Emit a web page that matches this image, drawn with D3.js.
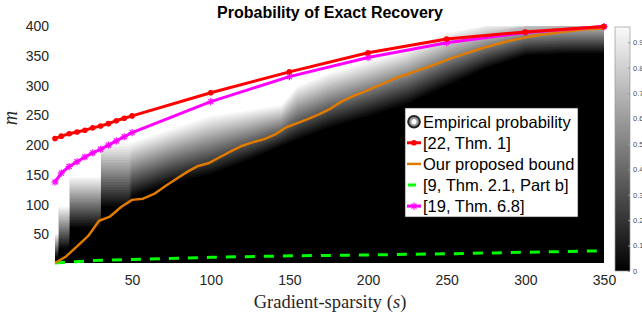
<!DOCTYPE html>
<html>
<head>
<meta charset="utf-8">
<script src="https://cdn.jsdelivr.net/npm/d3@7"></script>
<style>
body { margin: 0; background: #fff; }
svg { display: block; }
</style>
</head>
<body>
<svg></svg>
<script>
var width = 642;
var height = 318;

// s values used by the two marked bounds
var boundS = [1, 5, 10, 15, 20, 25, 30, 35, 40, 45, 50, 100, 150, 200, 250, 300, 350];
var redM = [211, 215, 219, 222, 225, 229, 232, 236, 241, 245, 249, 288, 323, 355, 378, 390, 399];
var magentaM = [138, 153, 164, 172, 180, 187, 193, 200, 207, 214, 221, 273, 315, 347, 372, 389, 399];

// our proposed bound
var orangeS = [1, 8, 15, 22, 29, 36, 43, 50, 57, 64, 71, 78, 85, 92, 99, 106, 113, 120, 127, 134,
    141, 148, 155, 162, 169, 176, 183, 190, 197, 204, 211, 218, 225, 232, 239, 246, 253, 260, 267, 274,
    281, 288, 295, 302, 309, 316, 323, 330, 337, 344, 350];
var orangeM = [2, 13, 30, 47, 73, 80, 96, 108, 110, 118, 131, 143, 155, 165, 170, 180, 190, 199, 205, 210,
    218, 230, 237, 244, 252, 261, 273, 282, 289, 297, 305, 313, 319, 326, 332, 339, 346, 352, 358, 364,
    369, 374, 378, 382, 385, 387, 390, 392, 394, 395, 396];

// [9, Thm 2.1, Part b]
var greenS = [1, 25, 50, 100, 150, 200, 250, 300, 350];
var greenM = [2, 6, 8, 11.5, 14, 15.5, 17.5, 20, 22.5];

// empirical probability: m where it leaves 0 (lo) and where it reaches the top (hi)
var heatS  = [1, 3, 3, 10, 10, 30, 30, 48, 50, 75, 100, 125, 145, 155, 175, 200, 225, 250, 275, 300, 325, 350];
var heatLo = [10, 10, 25, 25, 60, 60, 95, 95, 112, 135, 150, 175, 198, 208, 228, 247, 268, 298, 328, 350, 353, 353];
var heatHi = [52, 52, 98, 98, 148, 148, 204, 204, 206, 228, 250, 260, 268, 300, 322, 342, 362, 390, 405, 415, 418, 418];

var xTicks = [50, 100, 150, 200, 250, 300, 350];
var yTicks = [50, 100, 150, 200, 250, 300, 350, 400];
var cbTicks = [0, 0.1, 0.2, 0.3, 0.4, 0.5, 0.6, 0.7, 0.8, 0.9];
var legendLabels = ["Empirical probability", "[22, Thm. 1]", "Our proposed bound", "[9, Thm. 2.1, Part b]", "[19, Thm. 6.8]"];

var x = d3.scaleLinear().domain([1, 350]).range([55, 604]);
var y = d3.scaleLinear().domain([2, 400]).range([263, 26]).clamp(true);
var grey = d3.scaleLinear().domain([0, 1]).range(["#000", "#fff"]);

var svg = d3.select("svg")
    .attr("width", width)
    .attr("height", height)
    .style("font-family", "'Liberation Sans', Arial, sans-serif");

svg.append("defs").append("clipPath").attr("id", "plotclip")
    .append("rect")
    .attr("x", x(1)).attr("y", y(400))
    .attr("width", x(350) - x(1)).attr("height", y(2) - y(400));

// heat map as stacked grey bands
var heat = svg.append("g").attr("clip-path", "url(#plotclip)");
heat.append("rect")
    .attr("x", x(1)).attr("y", y(400))
    .attr("width", x(350) - x(1)).attr("height", y(2) - y(400))
    .attr("fill", "#000");

var nBands = 24;
var bandRows = heatS.map(function(s, i) { return { s: s, lo: heatLo[i], hi: heatHi[i] }; });
for (var k = 1; k <= nBands; k++) {
    var f = (k - 0.5) / nBands;
    var band = d3.area()
        .x(function(d) { return x(d.s); })
        .y0(function(d) { return y(d.lo + (d.hi - d.lo) * f); })
        .y1(y(400));
    heat.append("path")
        .datum(bandRows)
        .attr("d", band)
        .attr("fill", grey(k / nBands));
}

// bound lines
var line = d3.line()
    .x(function(d) { return x(d[0]); })
    .y(function(d) { return y(d[1]); });

svg.append("path")
    .datum(greenS.map(function(s, i) { return [s, greenM[i]]; }))
    .attr("d", line)
    .attr("fill", "none")
    .attr("stroke", "#00ff00")
    .attr("stroke-width", 3)
    .attr("stroke-dasharray", "10,9");

svg.append("path")
    .datum(orangeS.map(function(s, i) { return [s, orangeM[i]]; }))
    .attr("d", line)
    .attr("fill", "none")
    .attr("stroke", "#e07b00")
    .attr("stroke-width", 2.5)
    .attr("stroke-linejoin", "round");

var magentaPts = boundS.map(function(s, i) { return [s, magentaM[i]]; });
svg.append("path")
    .datum(magentaPts)
    .attr("d", line)
    .attr("fill", "none")
    .attr("stroke", "#ff00ff")
    .attr("stroke-width", 3);

function asterisk(g, cx, cy, r, color) {
    var a = r * 0.7;
    [[0, -r, 0, r], [-r, 0, r, 0], [-a, -a, a, a], [-a, a, a, -a]].forEach(function(l) {
        g.append("line")
            .attr("x1", cx + l[0]).attr("y1", cy + l[1])
            .attr("x2", cx + l[2]).attr("y2", cy + l[3])
            .attr("stroke", color).attr("stroke-width", 1.2);
    });
}
var mk = svg.append("g");
magentaPts.forEach(function(d) { asterisk(mk, x(d[0]), y(d[1]), 3.6, "#ff00ff"); });

var redPts = boundS.map(function(s, i) { return [s, redM[i]]; });
svg.append("path")
    .datum(redPts)
    .attr("d", line)
    .attr("fill", "none")
    .attr("stroke", "#ff0000")
    .attr("stroke-width", 3);

svg.append("g").selectAll("circle")
    .data(redPts)
    .enter().append("circle")
    .attr("cx", function(d) { return x(d[0]); })
    .attr("cy", function(d) { return y(d[1]); })
    .attr("r", 2.8)
    .attr("fill", "#ff0000");

// axes (labels only, no axis lines)
var xAxis = svg.append("g")
    .attr("transform", "translate(0," + y(2) + ")")
    .call(d3.axisBottom(x).tickValues(xTicks).tickSize(0).tickPadding(12));
var yAxis = svg.append("g")
    .attr("transform", "translate(" + x(1) + ",0)")
    .call(d3.axisLeft(y).tickValues(yTicks).tickSize(0).tickPadding(6));
[xAxis, yAxis].forEach(function(a) {
    a.select(".domain").remove();
    a.selectAll("text")
        .style("font-family", "'Liberation Sans', Arial, sans-serif")
        .style("font-size", "14px")
        .attr("fill", "#262626");
});

// title and axis labels
svg.append("text")
    .attr("x", 330)
    .attr("y", 18)
    .attr("text-anchor", "middle")
    .attr("font-weight", "bold")
    .style("font-size", "16px")
    .text("Probability of Exact Recovery");

var xl = svg.append("text")
    .attr("x", 330)
    .attr("y", 308)
    .attr("text-anchor", "middle")
    .style("font-family", "'Liberation Serif', 'DejaVu Serif', serif")
    .style("font-size", "18.5px")
    .attr("fill", "#262626");
xl.append("tspan").text("Gradient-sparsity (");
xl.append("tspan").attr("font-style", "italic").text("s");
xl.append("tspan").text(")");

svg.append("text")
    .attr("transform", "translate(17,118) rotate(-90)")
    .attr("text-anchor", "middle")
    .style("font-family", "'Liberation Serif', 'DejaVu Serif', serif")
    .style("font-size", "20px")
    .attr("font-style", "italic")
    .attr("fill", "#262626")
    .text("m");

// colorbar
var cb = d3.scaleLinear().domain([0, 0.96]).range([271, 27]);
var grad = svg.select("defs").append("linearGradient")
    .attr("id", "cbgrad")
    .attr("x1", 0).attr("y1", 1).attr("x2", 0).attr("y2", 0);
grad.append("stop").attr("offset", "0%").attr("stop-color", "#000");
grad.append("stop").attr("offset", "100%").attr("stop-color", "#fafafa");

svg.append("rect")
    .attr("x", 615).attr("y", cb(0.96))
    .attr("width", 15).attr("height", cb(0) - cb(0.96))
    .attr("fill", "url(#cbgrad)")
    .attr("stroke", "#999")
    .attr("stroke-width", 0.7);

var cbAxis = svg.append("g")
    .attr("transform", "translate(630,0)")
    .call(d3.axisRight(cb).tickValues(cbTicks).tickSize(2).tickPadding(1).tickFormat(d3.format("")));
cbAxis.select(".domain").remove();
cbAxis.selectAll("line").attr("stroke", "#999").attr("transform", "translate(-2,0)");
cbAxis.selectAll("text")
    .style("font-family", "'Liberation Sans', Arial, sans-serif")
    .style("font-size", "7.5px")
    .attr("fill", "#4d4d4d");

// legend
var lg = svg.append("g");
lg.append("rect")
    .attr("x", 405).attr("y", 108)
    .attr("width", 173).attr("height", 109)
    .attr("fill", "#fff")
    .attr("stroke", "#262626")
    .attr("stroke-width", 0.6);

var rowY = legendLabels.map(function(d, i) { return 121.7 + i * 21.1; });
lg.selectAll("text.lab")
    .data(legendLabels)
    .enter().append("text")
    .attr("class", "lab")
    .attr("x", 423)
    .attr("y", function(d, i) { return rowY[i]; })
    .attr("dy", "0.36em")
    .style("font-size", "16.5px")
    .attr("fill", "#000")
    .text(function(d) { return d; });

// icons
lg.append("circle").attr("cx", 414).attr("cy", rowY[0]).attr("r", 6.8).attr("fill", "#222");
lg.append("circle").attr("cx", 414).attr("cy", rowY[0]).attr("r", 4.8).attr("fill", "#999");
lg.append("circle").attr("cx", 414).attr("cy", rowY[0]).attr("r", 2.6).attr("fill", "#fff");

lg.append("line").attr("x1", 407).attr("x2", 421).attr("y1", rowY[1]).attr("y2", rowY[1])
    .attr("stroke", "#ff0000").attr("stroke-width", 3);
lg.append("circle").attr("cx", 414).attr("cy", rowY[1]).attr("r", 2.8).attr("fill", "#ff0000");

lg.append("line").attr("x1", 407).attr("x2", 421).attr("y1", rowY[2]).attr("y2", rowY[2])
    .attr("stroke", "#e07b00").attr("stroke-width", 2.5);

lg.append("line").attr("x1", 408).attr("x2", 416).attr("y1", rowY[3]).attr("y2", rowY[3])
    .attr("stroke", "#00ff00").attr("stroke-width", 3);

lg.append("line").attr("x1", 407).attr("x2", 421).attr("y1", rowY[4]).attr("y2", rowY[4])
    .attr("stroke", "#ff00ff").attr("stroke-width", 3);
asterisk(lg, 414, rowY[4], 3.6, "#ff00ff");
</script>
</body>
</html>
